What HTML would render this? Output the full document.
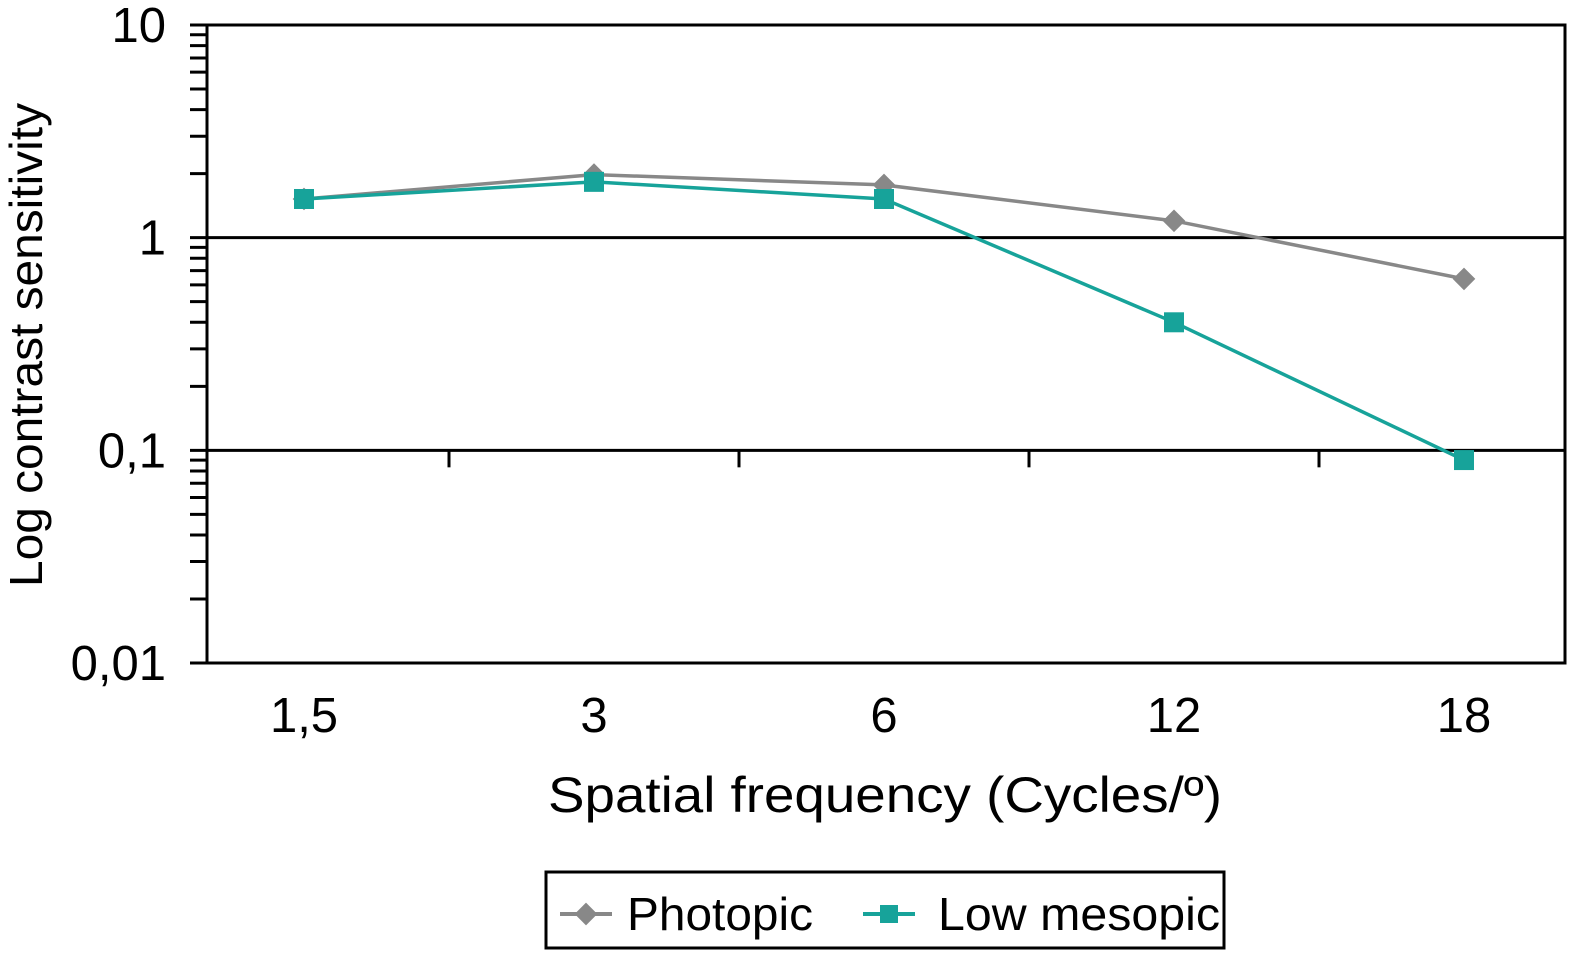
<!DOCTYPE html>
<html><head><meta charset="utf-8"><style>
html,body{margin:0;padding:0;background:#fff;}
svg{display:block;font-family:"Liberation Sans",sans-serif;}
</style></head><body>
<svg id="chart" width="1582" height="959" viewBox="0 0 1582 959">
<g id="grid"></g>
<g id="axes"></g>
<g id="series"></g>
<text x="42" y="345" font-size="46" text-anchor="middle" textLength="484" lengthAdjust="spacingAndGlyphs" transform="rotate(-90 42 345)">Log contrast sensitivity</text>
<text x="885" y="812" font-size="50" text-anchor="middle" textLength="674" lengthAdjust="spacingAndGlyphs">Spatial frequency (Cycles/º)</text>
<g>
<rect x="546" y="872" width="678" height="76" fill="#fff" stroke="#000" stroke-width="3"/>
<g>
<line x1="560" y1="914" x2="612" y2="914" stroke="#888" stroke-width="4"/>
<rect x="578" y="906" width="16" height="16" fill="#888" transform="rotate(45 586 914)"/>
<text x="627" y="930" font-size="46" textLength="186" lengthAdjust="spacingAndGlyphs">Photopic</text>
</g>
<g>
<line x1="863" y1="914" x2="915" y2="914" stroke="#17a39a" stroke-width="4"/>
<rect x="880" y="905" width="18" height="18" fill="#17a39a"/>
<text x="938" y="930" font-size="46" textLength="282" lengthAdjust="spacingAndGlyphs">Low mesopic</text>
</g>
</g>
</svg>
<script>
const categories=["1,5","3","6","12","18"];
const photopic=[1.52,1.98,1.77,1.2,0.64];
const lowMesopic=[1.52,1.83,1.52,0.40,0.09];
const yTickValues=[10,1,0.1,0.01];
const yTickLabels=["10","1","0,1","0,01"];
const NS="http://www.w3.org/2000/svg";
const pLeft=207,pRight=1565,pTop=25,pBottom=663;
const xFirst=304,xStep=290;
function xPos(i){return xFirst+i*xStep;}
function yPos(v){return pTop+(1-Math.log10(v))*(pBottom-pTop)/3;}
function mk(tag,attrs,parent){const e=document.createElementNS(NS,tag);for(const k in attrs)e.setAttribute(k,attrs[k]);parent.appendChild(e);return e;}
const grid=document.getElementById('grid'),axes=document.getElementById('axes'),series=document.getElementById('series');
yTickValues.forEach((v,i)=>{
 const y=yPos(v);
 const l=mk('line',{x1:190,x2:pRight,y1:y,y2:y,stroke:'#000','stroke-width':3},grid);
 
 
 const t=mk('text',{x:166,y:y+17,'font-size':49,'text-anchor':'end'},axes);
 t.textContent=yTickLabels[i];
 
 
});
for(let d=0;d<3;d++){
 for(let m=2;m<=9;m++){
  const v=Math.pow(10,-d)*m;
  const y=yPos(v);
  const l=mk('line',{x1:190,x2:pLeft,y1:y,y2:y,stroke:'#000','stroke-width':3},axes);
  
  
 }
}
const ya=mk('line',{x1:pLeft,x2:pLeft,y1:pTop-1.5,y2:pBottom+1.5,stroke:'#000','stroke-width':3},axes);


const ra=mk('line',{x1:pRight,x2:pRight,y1:pTop-1.5,y2:pBottom+1.5,stroke:'#000','stroke-width':3},axes);


const y01=yPos(0.1);
for(let i=0;i<categories.length-1;i++){
 const x=(xPos(i)+xPos(i+1))/2;
 const l=mk('line',{x1:x,x2:x,y1:y01,y2:y01+17,stroke:'#000','stroke-width':3},axes);
 
 
}
categories.forEach((c,i)=>{
 const t=mk('text',{x:xPos(i),y:732,'font-size':49,'text-anchor':'middle'},axes);
 t.textContent=c;
 
 
});
function drawSeries(vals,color,shape,name){
 const g=mk('g',{},series);
 
 
 const pts=vals.map((v,i)=>xPos(i)+','+yPos(v)).join(' ');
 const pl=mk('polyline',{points:pts,fill:'none',stroke:color,'stroke-width':3.5},g);
 
 
 vals.forEach((v,i)=>{
  const x=xPos(i),y=yPos(v);
  let m;
  if(shape==='diamond') m=mk('rect',{x:x-8,y:y-8,width:16,height:16,fill:color,transform:`rotate(45 ${x} ${y})`},g);
  else m=mk('rect',{x:x-10,y:y-10,width:20,height:20,fill:color},g);
  
  
 });
}
drawSeries(photopic,'#888','diamond','photopic');
drawSeries(lowMesopic,'#17a39a','square','low-mesopic');
</script>
</body></html>
